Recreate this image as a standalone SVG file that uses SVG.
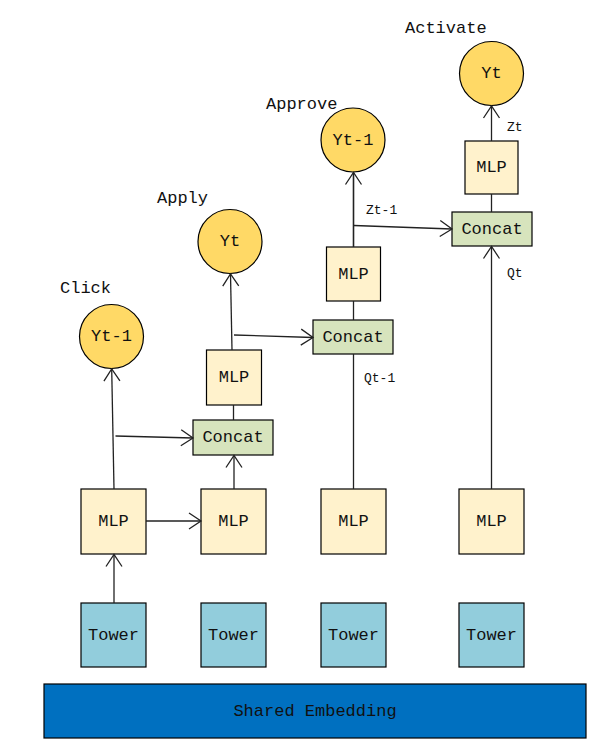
<svg xmlns="http://www.w3.org/2000/svg" width="609" height="748" viewBox="0 0 609 748">
<style>
text{font-family:"Liberation Mono","DejaVu Sans Mono",monospace;fill:#111;}
.t{font-size:17px;text-anchor:middle;dominant-baseline:central;}
.lab{font-size:17px;}
.sm{font-size:13px;}
.mlp{fill:#FFF2CC;stroke:#000;stroke-width:1.2;}
.tow{fill:#92CDDC;stroke:#000;stroke-width:1.2;}
.cat{fill:#D7E4BD;stroke:#000;stroke-width:1.2;}
.y{fill:#FFD966;stroke:#000;stroke-width:1.2;}
.c{stroke:#222;stroke-width:1.3;fill:none;}
.ca{stroke:#222;stroke-width:1.3;fill:none;marker-end:url(#ah);}
</style>
<defs>
<marker id="ah" markerUnits="userSpaceOnUse" markerWidth="16" markerHeight="20" viewBox="-14 -10 16 20" refX="0" refY="0" orient="auto">
<path d="M-12,-8 L0,0 L-12,8" fill="none" stroke="#222" stroke-width="1.3"/>
</marker>
</defs>
<rect width="609" height="748" fill="#fff"/>

<g id="shared-embedding">
<rect x="44" y="684" width="542" height="54" fill="#0070C0" stroke="#000" stroke-width="1.2"/>
<text class="t" x="315" y="711">Shared Embedding</text>
</g>

<g id="tower1"><rect class="tow" x="81" y="603" width="65" height="64"/><text class="t" x="113.5" y="635">Tower</text></g>
<g id="tower2"><rect class="tow" x="201" y="603" width="65" height="64"/><text class="t" x="233.5" y="635">Tower</text></g>
<g id="tower3"><rect class="tow" x="321" y="603" width="65" height="64"/><text class="t" x="353.5" y="635">Tower</text></g>
<g id="tower4"><rect class="tow" x="459" y="603" width="65" height="64"/><text class="t" x="491.5" y="635">Tower</text></g>

<g id="mlp1"><rect class="mlp" x="81" y="489" width="65" height="65"/><text class="t" x="113.5" y="521">MLP</text></g>
<g id="mlp2"><rect class="mlp" x="201" y="489" width="65" height="65"/><text class="t" x="233.5" y="521">MLP</text></g>
<g id="mlp3"><rect class="mlp" x="321" y="489" width="65" height="65"/><text class="t" x="353.5" y="521">MLP</text></g>
<g id="mlp4"><rect class="mlp" x="459" y="489" width="65" height="65"/><text class="t" x="491.5" y="521">MLP</text></g>

<g id="concat1"><rect class="cat" x="193" y="420" width="80" height="35"/><text class="t" x="233" y="437.5">Concat</text></g>
<g id="mlp-apply"><rect class="mlp" x="206.5" y="350" width="55" height="55"/><text class="t" x="234" y="377.5">MLP</text></g>
<g id="concat2"><rect class="cat" x="313" y="320" width="80" height="34"/><text class="t" x="353" y="337">Concat</text></g>
<g id="mlp-approve"><rect class="mlp" x="326.5" y="247" width="54" height="54"/><text class="t" x="353.5" y="274">MLP</text></g>
<g id="concat3"><rect class="cat" x="452" y="212" width="80" height="34"/><text class="t" x="492" y="229">Concat</text></g>
<g id="mlp-activate"><rect class="mlp" x="465" y="141" width="53" height="53"/><text class="t" x="491.5" y="167.5">MLP</text></g>

<g id="click"><circle class="y" cx="111.5" cy="336.5" r="32"/><text class="t" x="111.5" y="336.5">Yt-1</text><text class="lab" x="60" y="293">Click</text></g>
<g id="apply"><circle class="y" cx="230" cy="241.5" r="32"/><text class="t" x="230" y="241.5">Yt</text><text class="lab" x="157" y="203">Apply</text></g>
<g id="approve"><circle class="y" cx="353" cy="140" r="32"/><text class="t" x="353" y="140">Yt-1</text><text class="lab" x="266" y="109">Approve</text></g>
<g id="activate"><circle class="y" cx="491.5" cy="73.5" r="32"/><text class="t" x="491.5" y="73.5">Yt</text><text class="lab" x="405" y="33">Activate</text></g>

<g id="connectors">
<line class="ca" x1="114" y1="603" x2="114" y2="554.5"/>
<line class="ca" x1="146" y1="521" x2="201" y2="521"/>
<line class="ca" x1="114" y1="489" x2="111.7" y2="369"/>
<line class="ca" x1="115.5" y1="436" x2="193" y2="438"/>
<line class="ca" x1="234" y1="489" x2="234" y2="455.5"/>
<line class="c" x1="233.5" y1="420" x2="233.5" y2="405"/>
<line class="ca" x1="232" y1="350" x2="230.5" y2="274"/>
<line class="ca" x1="234" y1="335" x2="313" y2="337.5"/>
<line class="c" x1="353.5" y1="489" x2="353.5" y2="354"/>
<line class="c" x1="353.5" y1="320" x2="353.5" y2="301"/>
<line class="ca" x1="353.5" y1="247" x2="353.5" y2="172.5" style="stroke-width:1.6"/>
<line class="ca" x1="354" y1="225.5" x2="452" y2="229"/>
<line class="ca" x1="491.5" y1="489" x2="491.5" y2="246.5"/>
<line class="c" x1="491.5" y1="212" x2="491.5" y2="194"/>
<line class="ca" x1="491.5" y1="141" x2="491.5" y2="106"/>
<text class="sm" x="364" y="382">Qt-1</text>
<text class="sm" x="366" y="214">Zt-1</text>
<text class="sm" x="507" y="277">Qt</text>
<text class="sm" x="507" y="131">Zt</text>
</g>
</svg>
